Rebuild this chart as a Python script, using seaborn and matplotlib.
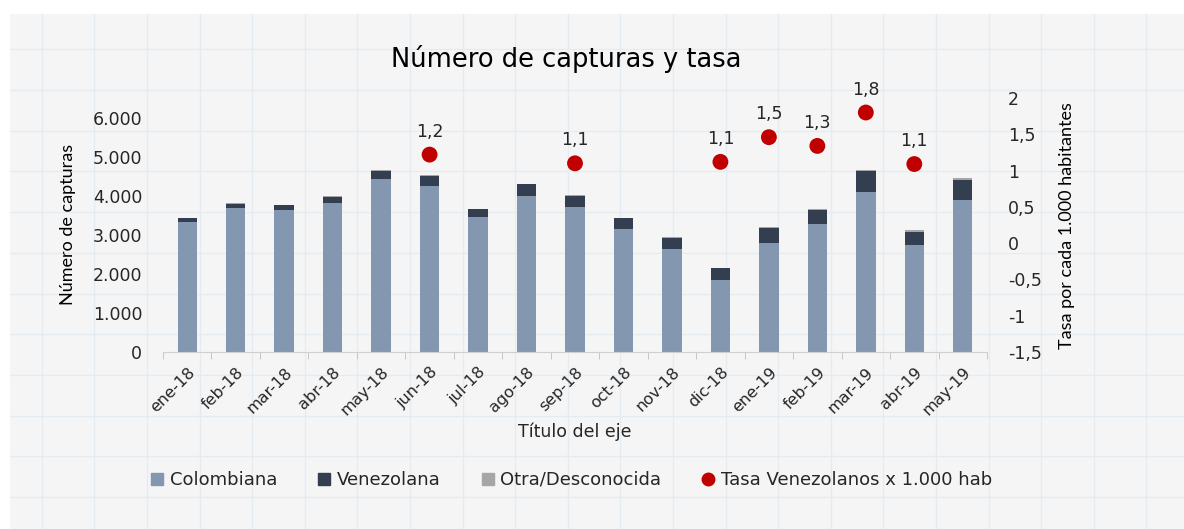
import matplotlib
matplotlib.use('Agg')
import matplotlib.pyplot as plt
import seaborn as sns
import numpy as np
import pandas as pd
from matplotlib.lines import Line2D
from matplotlib.patches import Rectangle

# datos
meses = ['ene-18', 'feb-18', 'mar-18', 'abr-18', 'may-18', 'jun-18', 'jul-18', 'ago-18', 'sep-18',
         'oct-18', 'nov-18', 'dic-18', 'ene-19', 'feb-19', 'mar-19', 'abr-19', 'may-19']
colombiana = [3320, 3680, 3630, 3820, 4430, 4250, 3450, 4000, 3720,
              3150, 2640, 1840, 2780, 3270, 4090, 2740, 3880]
venezolana = [100, 110, 120, 140, 190, 260, 200, 290, 270,
              270, 280, 300, 400, 360, 540, 340, 520]
otra = [20, 20, 20, 20, 25, 20, 20, 20, 20,
        20, 20, 20, 20, 20, 40, 30, 40]

meses_tasa = ['jun-18', 'sep-18', 'dic-18', 'ene-19', 'feb-19', 'mar-19', 'abr-19']
tasa = [1.22, 1.10, 1.12, 1.46, 1.34, 1.80, 1.09]

y_ticks = [0, 1000, 2000, 3000, 4000, 5000, 6000]
y2_ticks = [-1.5, -1, -0.5, 0, 0.5, 1, 1.5, 2]

c_col = '#8497b0'
c_ven = '#333f50'
c_otra = '#a6a6a6'
c_tasa = '#c00000'
txt = '#262626'

df = pd.DataFrame({'mes': meses, 'Colombiana': colombiana,
                   'Venezolana': venezolana, 'Otra': otra})
df['tope_ven'] = df['Colombiana'] + df['Venezolana']
df['total'] = df['tope_ven'] + df['Otra']

W, H = 1184, 529
fig = plt.figure(figsize=(W / 100, H / 100), dpi=100, facecolor='white')

# fondo gris con cuadricula de hoja de calculo
fig.patches.append(Rectangle((10 / W, 0), 1, (H - 14) / H, transform=fig.transFigure,
                             facecolor='#f5f5f5', edgecolor='none', zorder=-10))
for gx in np.arange(41.7, W, 52.6):
    fig.add_artist(Line2D([gx / W, gx / W], [0, (H - 14) / H], color='#e4ecf2', lw=1, zorder=-5))
for gy in np.arange(497, 14, -40.7):
    fig.add_artist(Line2D([10 / W, 1], [1 - gy / H, 1 - gy / H], color='#e4ecf2', lw=1, zorder=-5))

ax = fig.add_axes([163 / W, 1 - 352 / H, 824 / W, 254 / H])
ax.set_facecolor('none')

sns.barplot(data=df, x='mes', y='total', color=c_otra, saturation=1, width=0.4, ax=ax)
sns.barplot(data=df, x='mes', y='tope_ven', color=c_ven, saturation=1, width=0.4, ax=ax)
sns.barplot(data=df, x='mes', y='Colombiana', color=c_col, saturation=1, width=0.4, ax=ax)

ax.set_ylim(0, 6500)
ax.set_yticks(y_ticks)
ax.set_yticklabels([f'{v:,}'.replace(',', '.') for v in y_ticks], fontsize=12.5, color=txt)
ax.tick_params(axis='y', length=0, pad=15)
ax.set_xticks(range(len(meses)))
ax.set_xticklabels(meses, rotation=45, ha='right', rotation_mode='anchor', fontsize=11.5, color=txt)
ax.set_xticks(np.arange(-0.5, len(meses), 1), minor=True)
ax.tick_params(axis='x', which='major', length=0, pad=9)
ax.tick_params(axis='x', which='minor', length=5, color='#bfbfbf')
ax.set_xlabel('')
ax.set_ylabel('')
for s in ['top', 'left', 'right']:
    ax.spines[s].set_visible(False)
ax.spines['bottom'].set_color('#d0d0d0')

ax2 = ax.twinx()
pos = [meses.index(m) for m in meses_tasa]
sns.scatterplot(x=pos, y=tasa, ax=ax2, color=c_tasa, s=130, edgecolor='none', legend=False)
for p, v in zip(pos, tasa):
    ax2.annotate(f'{v:.1f}'.replace('.', ','), (p, v), xytext=(0, 10), textcoords='offset points',
                 ha='center', va='bottom', fontsize=12.5, color=txt)
ax2.set_ylim(-1.5, 2)
ax2.set_yticks(y2_ticks)
ax2.set_yticklabels([f'{v:g}'.replace('.', ',') for v in y2_ticks], fontsize=12.5, color=txt)
ax2.tick_params(axis='y', length=0, pad=15)
for s in ['top', 'left', 'right', 'bottom']:
    ax2.spines[s].set_visible(False)
ax.set_xlim(-0.5, len(meses) - 0.5)

fig.text(566 / W, 1 - 59 / H, 'Número de capturas y tasa', ha='center', va='center',
         fontsize=18.5, color='black')
fig.text(575 / W, 1 - 432 / H, 'Título del eje', ha='center', va='center', fontsize=12.5, color=txt)
fig.text(68 / W, 1 - 224 / H, 'Número de capturas', rotation=90, ha='center', va='center',
         fontsize=13, color='black', family=['Lato', 'DejaVu Sans'])
fig.text(1067 / W, 1 - 226 / H, 'Tasa por cada 1.000 habitantes', rotation=90, ha='center',
         va='center', fontsize=13, color='black', family=['Lato', 'DejaVu Sans'])

handles = [
    Line2D([], [], marker='s', ls='', color=c_col, markersize=8),
    Line2D([], [], marker='s', ls='', color=c_ven, markersize=8),
    Line2D([], [], marker='s', ls='', color=c_otra, markersize=8),
    Line2D([], [], marker='o', ls='', color=c_tasa, markersize=9),
]
labels = ['Colombiana', 'Venezolana', 'Otra/Desconocida', 'Tasa Venezolanos x 1.000 hab']
fig.legend(handles, labels, loc='center', bbox_to_anchor=(571 / W, 1 - 480 / H), ncol=4,
           frameon=False, fontsize=13, handlelength=0.8, handletextpad=0.3,
           columnspacing=2.2, labelcolor=txt)

fig.savefig('out.png', dpi=100, facecolor=fig.get_facecolor())
